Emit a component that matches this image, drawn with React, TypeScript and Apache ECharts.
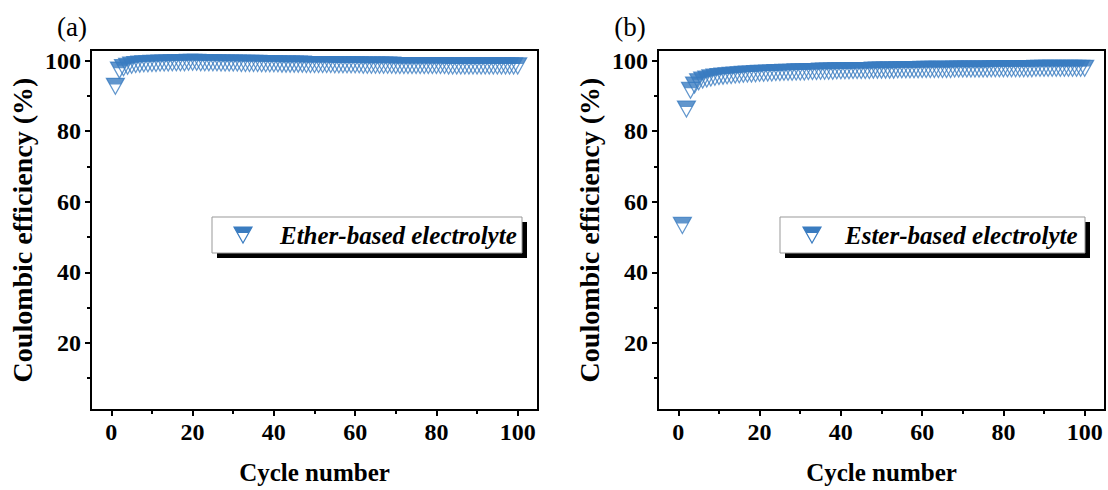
import React, { useEffect, useRef } from "react";
import * as echarts from "echarts";

// ---- data ----
const etherCE = [
  92.7, 97.3, 98.0, 98.4, 98.7, 98.9, 99.0, 99.1, 99.1, 99.2,
  99.2, 99.3, 99.3, 99.3, 99.4, 99.4, 99.4, 99.4, 99.5, 99.5,
  99.5, 99.4, 99.4, 99.4, 99.4, 99.4, 99.3, 99.3, 99.3, 99.3,
  99.3, 99.2, 99.2, 99.2, 99.2, 99.2, 99.1, 99.1, 99.1, 99.1,
  99.1, 99.0, 99.0, 99.0, 99.0, 99.0, 99.0, 98.9, 98.9, 98.9,
  98.9, 98.9, 98.9, 98.9, 98.8, 98.8, 98.8, 98.8, 98.8, 98.8,
  98.8, 98.7, 98.7, 98.7, 98.7, 98.7, 98.7, 98.7, 98.7, 98.6,
  98.6, 98.6, 98.6, 98.6, 98.6, 98.6, 98.6, 98.6, 98.6, 98.6,
  98.6, 98.6, 98.5, 98.5, 98.5, 98.5, 98.5, 98.5, 98.5, 98.5,
  98.5, 98.5, 98.5, 98.5, 98.5, 98.5, 98.5, 98.5, 98.5, 98.5,
];
const esterCE = [
  53.3, 86.3, 91.6, 93.1, 94.0, 94.5, 94.8, 95.1, 95.3, 95.5,
  95.6, 95.7, 95.8, 95.9, 96.0, 96.1, 96.2, 96.2, 96.3, 96.4,
  96.4, 96.5, 96.5, 96.6, 96.6, 96.7, 96.7, 96.7, 96.8, 96.8,
  96.8, 96.9, 96.9, 96.9, 97.0, 97.0, 97.0, 97.0, 97.1, 97.1,
  97.1, 97.1, 97.2, 97.2, 97.2, 97.2, 97.2, 97.3, 97.3, 97.3,
  97.3, 97.3, 97.3, 97.4, 97.4, 97.4, 97.4, 97.4, 97.4, 97.5,
  97.5, 97.5, 97.5, 97.5, 97.5, 97.5, 97.5, 97.6, 97.6, 97.6,
  97.6, 97.6, 97.6, 97.6, 97.6, 97.6, 97.7, 97.7, 97.7, 97.7,
  97.7, 97.7, 97.7, 97.7, 97.7, 97.7, 97.7, 97.8, 97.8, 97.8,
  97.8, 97.8, 97.8, 97.8, 97.8, 97.8, 97.8, 97.8, 97.8, 97.8,
];
const xTickLabels = [0, 20, 40, 60, 80, 100];
const xMinorTicks = [10, 30, 50, 70, 90];
const yTickLabels = [20, 40, 60, 80, 100];
const yMinorTicks = [10, 30, 50, 70, 90];
const seriesNames = ["Ether-based electrolyte", "Ester-based electrolyte"];
const panelLabels = ["(a)", "(b)"];

const BLUE = "#3a7cc0";
const FONT = "Liberation Serif";
const SYM_W = 18;
const SYM_H = 16;
const FILL_FRAC = 0.38;

const TRI = "path://M0,0 L100,0 L50,100 Z";
const TOP = "path://M0,0 L100,0 L81,38 L19,38 Z";

export default function App() {
  const ref = useRef<HTMLDivElement>(null);
  useEffect(() => {
    if (!ref.current) return;
    const chart = echarts.init(ref.current, null, { renderer: "svg" });

    const grids = [
      { left: 91, top: 50, width: 447, height: 360 },
      { left: 658, top: 50, width: 447, height: 360 },
    ];

    const xAxes: any[] = [];
    const yAxes: any[] = [];
    grids.forEach((_, gi) => {
      xAxes.push({
        gridIndex: gi,
        type: "value",
        min: -5,
        max: 105,
        name: "Cycle number",
        nameLocation: "middle",
        nameGap: 50,
        nameTextStyle: { fontFamily: FONT, fontWeight: "bold", fontSize: 25, color: "#000" },
        axisLine: { show: true, onZero: false, lineStyle: { color: "#000", width: 2 } },
        axisTick: { show: true, length: 6, lineStyle: { color: "#000", width: 2 }, customValues: xTickLabels },
        axisLabel: {
          customValues: xTickLabels,
          fontFamily: FONT,
          fontWeight: "bold",
          fontSize: 24,
          color: "#000",
          margin: 10,
        },
        splitLine: { show: false },
      });
      xAxes.push({
        gridIndex: gi,
        type: "value",
        min: -5,
        max: 105,
        position: "bottom",
        axisLine: { show: false, onZero: false },
        axisTick: { show: true, length: 4, lineStyle: { color: "#000", width: 2 }, customValues: xMinorTicks },
        axisLabel: { show: false },
        splitLine: { show: false },
      });
      yAxes.push({
        gridIndex: gi,
        type: "value",
        min: 1,
        max: 103,
        name: "Coulombic efficiency (%)",
        nameLocation: "middle",
        nameGap: 55,
        nameTextStyle: { fontFamily: FONT, fontWeight: "bold", fontSize: 28, color: "#000" },
        axisLine: { show: true, onZero: false, lineStyle: { color: "#000", width: 2 } },
        axisTick: { show: true, length: 6, lineStyle: { color: "#000", width: 2 }, customValues: yTickLabels },
        axisLabel: {
          customValues: yTickLabels,
          fontFamily: FONT,
          fontWeight: "bold",
          fontSize: 24,
          color: "#000",
          margin: 10,
        },
        splitLine: { show: false },
      });
      yAxes.push({
        gridIndex: gi,
        type: "value",
        min: 1,
        max: 103,
        position: "left",
        axisLine: { show: false, onZero: false },
        axisTick: { show: true, length: 4, lineStyle: { color: "#000", width: 2 }, customValues: yMinorTicks },
        axisLabel: { show: false },
        splitLine: { show: false },
      });
    });

    const datasets = [etherCE, esterCE];
    const series: any[] = [];
    datasets.forEach((vals, gi) => {
      const pts = vals.map((v, i) => [i + 1, v]);
      series.push({
        name: seriesNames[gi],
        type: "scatter",
        xAxisIndex: gi * 2,
        yAxisIndex: gi * 2,
        data: pts,
        symbol: TRI,
        symbolSize: [SYM_W, SYM_H],
        itemStyle: { color: "rgba(255,255,255,0)", borderColor: BLUE, borderWidth: 1.2 },
        silent: true,
        z: 3,
      });
      series.push({
        name: seriesNames[gi] + " fill",
        type: "scatter",
        xAxisIndex: gi * 2,
        yAxisIndex: gi * 2,
        data: pts,
        symbol: TOP,
        symbolSize: [SYM_W, SYM_H * FILL_FRAC],
        symbolOffset: [0, -(SYM_H / 2 - (SYM_H * FILL_FRAC) / 2)],
        itemStyle: { color: BLUE },
        silent: true,
        z: 4,
      });
    });

    const legendBoxes = [
      { x: 212, y: 217, w: 310, h: 36, ix: 243, tx: 280 },
      { x: 780, y: 217, w: 305, h: 36, ix: 812, tx: 845 },
    ];
    const graphics: any[] = [];
    legendBoxes.forEach((b, gi) => {
      const cy = b.y + b.h / 2;
      const t = cy - SYM_H / 2;
      graphics.push(
        { type: "rect", shape: { x: b.x + 5, y: b.y + 5, width: b.w, height: b.h }, style: { fill: "#000" }, z: 10 },
        { type: "rect", shape: { x: b.x, y: b.y, width: b.w, height: b.h }, style: { fill: "#fff", stroke: "#999", lineWidth: 1 }, z: 11 },
        {
          type: "polygon",
          shape: { points: [[b.ix - SYM_W / 2, t], [b.ix + SYM_W / 2, t], [b.ix, t + SYM_H]] },
          style: { fill: "#fff", stroke: BLUE, lineWidth: 1.2 },
          z: 12,
        },
        {
          type: "polygon",
          shape: {
            points: [
              [b.ix - SYM_W / 2, t],
              [b.ix + SYM_W / 2, t],
              [b.ix + (SYM_W / 2) * (1 - FILL_FRAC), t + SYM_H * FILL_FRAC],
              [b.ix - (SYM_W / 2) * (1 - FILL_FRAC), t + SYM_H * FILL_FRAC],
            ],
          },
          style: { fill: BLUE },
          z: 13,
        },
        {
          type: "text",
          x: b.tx,
          y: cy,
          style: {
            text: seriesNames[gi],
            fontFamily: FONT,
            fontWeight: "bold",
            fontStyle: "italic",
            fontSize: 25,
            fill: "#000",
            verticalAlign: "middle",
          },
          z: 13,
        }
      );
    });
    const panelPos = [
      { x: 72, y: 27 },
      { x: 630, y: 27 },
    ];
    panelPos.forEach((p, i) => {
      graphics.push({
        type: "text",
        x: p.x,
        y: p.y,
        style: {
          text: panelLabels[i],
          fontFamily: FONT,
          fontSize: 27,
          fill: "#000",
          align: "center",
          verticalAlign: "middle",
        },
        z: 13,
      });
    });

    chart.setOption({
      animation: false,
      backgroundColor: "#fff",
      grid: grids.map((g) => ({ ...g, show: true, borderColor: "#000", borderWidth: 2, backgroundColor: "transparent" })),
      xAxis: xAxes,
      yAxis: yAxes,
      series,
      graphic: graphics,
    });
    return () => chart.dispose();
  }, []);
  return (
    <div
      ref={ref}
      style={{ position: "fixed", left: 0, top: 0, width: 1108, height: 490 }}
    />
  );
}
